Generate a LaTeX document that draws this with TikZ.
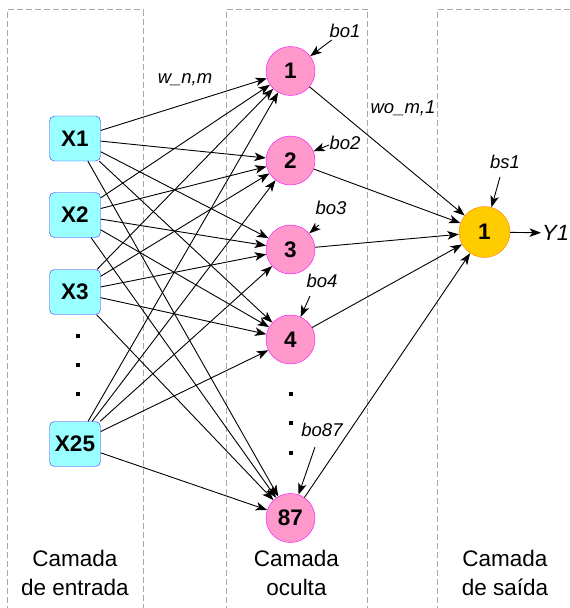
\documentclass[tikz,border=0pt]{standalone}
\usepackage{fontspec}
\setmainfont{Liberation Sans}
\usepackage{tikz}
\usetikzlibrary{arrows.meta,positioning}

\definecolor{incyan}{HTML}{99FFFF}
\definecolor{inblue}{HTML}{3333FF}
\definecolor{hidpink}{HTML}{FF99CC}
\definecolor{hidmag}{HTML}{FF00FF}
\definecolor{outyel}{HTML}{FFCC00}
\definecolor{outorg}{HTML}{FF8000}
\definecolor{laygray}{HTML}{A8A8A8}

\begin{document}
\begin{tikzpicture}[
    x=1pt, y=-1pt,
    inbox/.style={draw=inblue, fill=incyan, rounded corners=5pt, minimum width=51pt, minimum height=45pt, inner sep=0pt, font=\fontsize{22.5}{25}\selectfont\bfseries},
    hid/.style={draw=hidmag, fill=hidpink, circle, minimum size=49pt, inner sep=0pt, font=\fontsize{22.5}{25}\selectfont\bfseries},
    outn/.style={draw=outorg, fill=outyel, circle, minimum size=51pt, inner sep=0pt, font=\fontsize{22.5}{25}\selectfont\bfseries},
    layer/.style={draw=laygray, dash pattern=on 6pt off 3pt, line width=0.9pt},
    laytxt/.style={align=center, font=\fontsize{22.5}{29}\selectfont},
    lbl/.style={inner sep=1pt, font=\fontsize{18.5}{21}\selectfont\itshape},
    dotsq/.style={fill=black, minimum size=3.4pt, inner sep=0pt},
    arr/.style={-{Stealth[length=11.5pt, width=8.5pt, inset=3pt]}, line width=0.9pt}
]
\useasboundingbox (0,0) rectangle (570,608);
\clip (0,0) rectangle (570,608);

% camadas
\draw[layer] (7.5,630) -- (7.5,9.5) -- (143,9.5) -- (143,630);
\draw[layer] (226,630) -- (226,9.5) -- (367.7,9.5) -- (367.7,630);
\draw[layer] (437.7,630) -- (437.7,9.5) -- (590,9.5);

\node[laytxt] (lin) at (75,572.5) {Camada\\de entrada};
\node[laytxt] (lhid) at (296.5,572.5) {Camada\\oculta};
\node[laytxt] (lout) at (505,572.5) {Camada\\de saída};

% entradas
\node[inbox] (x1) at (75,138.5) {X1};
\node[inbox] (x2) at (75,215) {X2};
\node[inbox] (x3) at (75,292) {X3};
\node[inbox] (x25) at (75,444) {X25};
\node[dotsq] (di1) at (78,336) {};
\node[dotsq] (di2) at (78,365) {};
\node[dotsq] (di3) at (78,394) {};

% oculta
\node[hid] (h1) at (290.5,71) {1};
\node[hid] (h2) at (290.5,160.5) {2};
\node[hid] (h3) at (290.5,249.5) {3};
\node[hid] (h4) at (290.5,339.5) {4};
\node[hid] (h87) at (290.5,518) {87};
\node[dotsq] (dh1) at (291,394) {};
\node[dotsq] (dh2) at (291,423) {};
\node[dotsq] (dh3) at (291,453) {};

% saida
\node[outn] (out) at (484.5,232) {1};
\node[lbl, anchor=west, font=\fontsize{22}{25}\selectfont\itshape] (y1) at (541,233) {Y1};

% pesos
\node[lbl] (wnm) at (185,80) {w\_n,m};
\node[lbl] (wom) at (403,108) {wo\_m,1};

% bias
\node[lbl] (bo1) at (345,31) {bo1};
\node[lbl] (bo2) at (345,143) {bo2};
\node[lbl] (bo3) at (331,208) {bo3};
\node[lbl] (bo4) at (322,281) {bo4};
\node[lbl] (bo87) at (322,430) {bo87};
\node[lbl] (bs1) at (505,162) {bs1};
\coordinate (b1s) at (331.7,40);
\coordinate (b2s) at (329,145);
\coordinate (b3s) at (319,225);
\coordinate (b4s) at (310,296);
\coordinate (b87s) at (315,447);
\coordinate (bs1s) at (500,177);

\draw[arr] (b1s) -- (h1);
\draw[arr] (b2s) -- (h2);
\draw[arr] (b3s) -- (h3);
\draw[arr] (b4s) -- (h4);
\draw[arr] (b87s) -- (h87);
\draw[arr] (bs1s) -- (out);

% entrada -> oculta
\draw[arr] (x1) -- (h1);
\draw[arr] (x1) -- (h2);
\draw[arr] (x1) -- (h3);
\draw[arr] (x1) -- (h4);
\draw[arr] (x1) -- (h87);
\draw[arr] (x2) -- (h1);
\draw[arr] (x2) -- (h2);
\draw[arr] (x2) -- (h3);
\draw[arr] (x2) -- (h4);
\draw[arr] (x2) -- (h87);
\draw[arr] (x3) -- (h1);
\draw[arr] (x3) -- (h2);
\draw[arr] (x3) -- (h3);
\draw[arr] (x3) -- (h4);
\draw[arr] (x3) -- (h87);
\draw[arr] (x25) -- (h1);
\draw[arr] (x25) -- (h2);
\draw[arr] (x25) -- (h3);
\draw[arr] (x25) -- (h4);
\draw[arr] (x25) -- (h87);

% oculta -> saida
\draw[arr] (h1) -- (out);
\draw[arr] (h2) -- (out);
\draw[arr] (h3) -- (out);
\draw[arr] (h4) -- (out);
\draw[arr] (h87) -- (out);
\draw[arr] (out) -- (y1);
\end{tikzpicture}
\end{document}
